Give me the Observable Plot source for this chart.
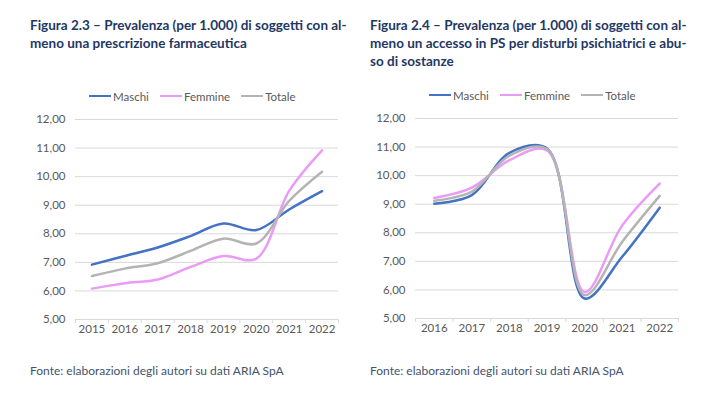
<!DOCTYPE html>
<html><head><meta charset="utf-8">
<script src="https://cdn.jsdelivr.net/npm/d3@7"></script>
<script src="https://cdn.jsdelivr.net/npm/@observablehq/plot@0.6"></script>
<style>
html,body{margin:0;padding:0;background:#fff;}
#wrap{position:relative;width:724px;height:394px;overflow:hidden;font-family:Lato,"Open Sans",sans-serif;}
.title{position:absolute;font-weight:bold;color:#1f3864;font-size:13.5px;line-height:18px;white-space:nowrap;}
.legend{position:absolute;font-size:11.5px;color:#595959;white-space:nowrap;display:flex;align-items:center;height:14px;}
.legend span.sw{display:inline-block;width:22px;height:2.5px;margin-right:2px;}
.legend span.it{margin-right:11px;}
.foot{position:absolute;font-size:12px;color:#44546a;white-space:nowrap;}
.chart{position:absolute;}
</style></head>
<body><div id="wrap">
<div class="title" style="left:30px;top:16px;">Figura 2.3 – Prevalenza (per 1.000) di soggetti con al-<br>meno una prescrizione farmaceutica</div>
<div class="title" style="left:370px;top:16px;">Figura 2.4 – Prevalenza (per 1.000) di soggetti con al-<br>meno un accesso in PS per disturbi psichiatrici e abu-<br>so di sostanze</div>
<div class="legend" id="legL" style="left:89px;top:89px;"></div>
<div class="legend" id="legR" style="left:429px;top:88px;"></div>
<div class="chart" id="chL" style="left:0;top:110px;"></div>
<div class="chart" id="chR" style="left:362px;top:109px;"></div>
<div class="foot" style="left:30px;top:363px;">Fonte: elaborazioni degli autori su dati ARIA SpA</div>
<div class="foot" style="left:370px;top:363px;">Fonte: elaborazioni degli autori su dati ARIA SpA</div>
</div>
<script>
// ---- Data ----
const seriesNames = ["Maschi", "Femmine", "Totale"];
const seriesColors = ["#4472c4", "#ea9bf7", "#b4b4b4"];
const yTicks = [5, 6, 7, 8, 9, 10, 11, 12];

const yearsLeft = [2015, 2016, 2017, 2018, 2019, 2020, 2021, 2022];
const maschiLeft = [6.92, 7.22, 7.52, 7.92, 8.36, 8.13, 8.85, 9.49];
const femmineLeft = [6.08, 6.27, 6.40, 6.84, 7.22, 7.13, 9.50, 10.92];
const totaleLeft = [6.52, 6.78, 6.97, 7.40, 7.83, 7.66, 9.15, 10.17];

const yearsRight = [2016, 2017, 2018, 2019, 2020, 2021, 2022];
const maschiRight = [9.02, 9.32, 10.80, 10.95, 5.70, 7.16, 8.88];
const femmineRight = [9.22, 9.58, 10.54, 10.88, 5.93, 8.25, 9.72];
const totaleRight = [9.12, 9.44, 10.70, 10.93, 5.82, 7.68, 9.29];

const fmt = d => d.toFixed(2).replace(".", ",");

function legend(el) {
  el.innerHTML = seriesNames.map((n, i) =>
    `<span class="sw" style="background:${seriesColors[i]}"></span><span class="it">${n}</span>`).join("");
}
legend(document.getElementById("legL"));
legend(document.getElementById("legR"));

function chart(years, series, opts) {
  const bounds = [...years.map(y => y - 0.5), years[years.length - 1] + 0.5];
  const rows = [];
  series.forEach((vals, s) => years.forEach((y, i) => rows.push({year: y, value: vals[i], s: seriesNames[s]})));
  return Plot.plot({
    width: 362,
    height: 235,
    marginLeft: opts.marginLeft,
    marginRight: opts.marginRight,
    marginTop: 9,
    marginBottom: 26,
    style: {fontFamily: "Lato, 'Open Sans', sans-serif", fontSize: "11.5px", color: "#595959", background: "transparent"},
    x: {type: "linear", domain: [bounds[0], bounds[bounds.length - 1]]},
    y: {domain: [5, 12]},
    marks: [
      Plot.ruleY(yTicks, {stroke: "#d9d9d9", strokeWidth: 1}),
      Plot.axisY({ticks: yTicks, tickSize: 0, tickPadding: 10, tickFormat: fmt, label: null, color: "#595959"}),
      Plot.axisX({ticks: bounds, tickSize: 4, tickFormat: () => "", label: null, color: "#d9d9d9"}),
      Plot.text(years, {x: d => d, text: d => String(d), frameAnchor: "bottom", dy: 13, fill: "#595959"}),
      ...seriesNames.map((n, s) => Plot.line(rows.filter(r => r.s === n), {
        x: "year", y: "value", stroke: seriesColors[s], strokeWidth: 2.5, curve: "catmull-rom"
      }))
    ]
  });
}

document.getElementById("chL").append(chart(yearsLeft, [maschiLeft, femmineLeft, totaleLeft], {marginLeft: 75, marginRight: 24}));
document.getElementById("chR").append(chart(yearsRight, [maschiRight, femmineRight, totaleRight], {marginLeft: 53, marginRight: 46}));
</script>
</body></html>
